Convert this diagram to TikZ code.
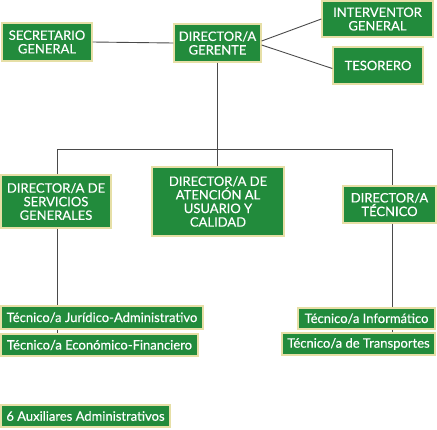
\documentclass[tikz,border=0pt]{standalone}
\usepackage{fontspec}
\setmainfont{Lato}[BoldFont=Lato, BoldFeatures={FakeBold=0.35}]
\definecolor{boxgreen}{HTML}{228B3C}
\definecolor{boxedge}{HTML}{E6DFA6}
\definecolor{linegray}{HTML}{4A4A4A}
\tikzset{
  box/.style={draw=boxedge, fill=boxgreen, line width=1.3pt, text=white, align=center,
    inner sep=0pt, font=\fontsize{13}{13.6}\selectfont\bfseries},
  conn/.style={draw=linegray, line width=0.9pt}
}
\begin{document}
\begin{tikzpicture}[x=1pt,y=-1pt]
\useasboundingbox (0,0) rectangle (437,429);
\node[box, minimum width=90pt, minimum height=38pt] (sec) at (47,42) {SECRETARIO\\GENERAL};
\node[box, minimum width=87pt, minimum height=38pt] (ger) at (217.5,43) {DIRECTOR/A\\GERENTE};
\node[box, minimum width=111pt, minimum height=36pt] (int) at (377.5,19) {INTERVENTOR\\GENERAL};
\node[box, minimum width=90pt, minimum height=37pt] (tes) at (378,65.5) {TESORERO};
\node[box, minimum width=110pt, minimum height=53pt] (serv) at (56,201.5) {DIRECTOR/A DE\\SERVICIOS\\GENERALES};
\node[box, minimum width=132pt, minimum height=69pt] (aten) at (218,201.5) {DIRECTOR/A DE\\ATENCIÓN AL\\USUARIO Y\\CALIDAD};
\node[box, minimum width=93pt, minimum height=37pt] (tecd) at (389.5,204.5) {DIRECTOR/A\\TÉCNICO};
\node[box, minimum width=202pt, minimum height=23pt] (jur) at (102,317.5) {Técnico/a Jurídico-Administrativo};
\node[box, minimum width=197pt, minimum height=22pt] (eco) at (99.5,345) {Técnico/a Económico-Financiero};
\node[box, minimum width=137pt, minimum height=21pt] (inf) at (366.5,318.5) {Técnico/a Informático};
\node[box, minimum width=153pt, minimum height=22pt] (tra) at (358.5,344) {Técnico/a de Transportes};
\node[box, minimum width=169pt, minimum height=22pt] (aux) at (85.5,416) {6 Auxiliares Administrativos};
\coordinate (bus) at (217.5,149);
\coordinate (lx) at (57,0);
\coordinate (rx) at (392,0);
\draw[conn] (sec.east) -- (ger.west);
\draw[conn] ([yshift=2pt]ger.east) -- (int.west);
\draw[conn] ([yshift=-2pt]ger.east) -- ([yshift=-3pt]tes.west);
\draw[conn] (ger.south) -- (bus);
\draw[conn] (lx |- serv.north) -- (lx |- bus) -- (rx |- bus) -- (rx |- tecd.north);
\draw[conn] (aten.north -| bus) -- (bus);
\draw[conn] (lx |- serv.south) -- (lx |- jur.north);
\draw[conn] (lx |- jur.south) -- (lx |- eco.north);
\draw[conn] (rx |- tecd.south) -- (rx |- inf.north);
\draw[conn] (rx |- inf.south) -- (rx |- tra.north);
\end{tikzpicture}
\end{document}
